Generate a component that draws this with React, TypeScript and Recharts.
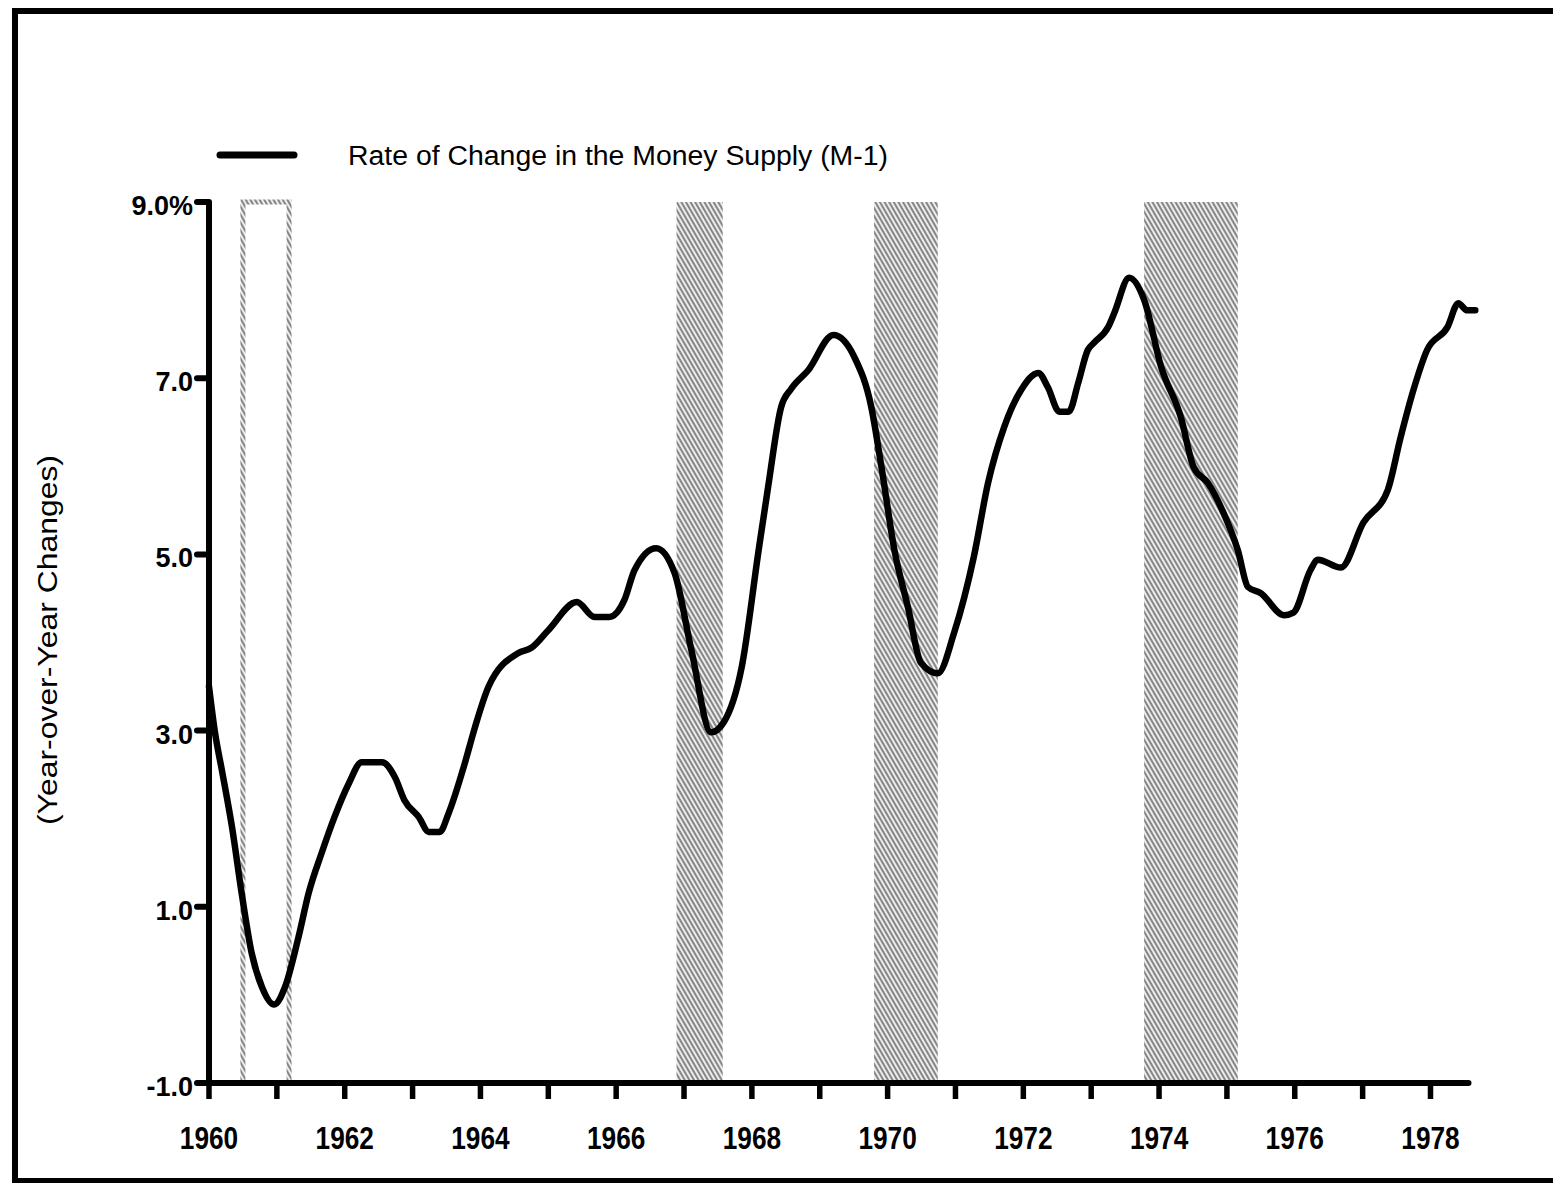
import React from 'react';
import { LineChart, Line, XAxis, YAxis, ReferenceArea, ReferenceLine } from 'recharts';

// M-1 year-over-year growth (decimal years)
const years = [
  1960.0, 1960.09, 1960.19, 1960.34, 1960.49, 1960.63, 1960.78, 1960.96, 1961.12, 1961.32,
  1961.47, 1961.66, 1961.85, 1962.06, 1962.25, 1962.55, 1962.74, 1962.88, 1963.09, 1963.24,
  1963.4, 1963.53, 1963.77, 1963.92, 1964.12, 1964.56, 1964.75, 1965.0, 1965.42, 1965.68,
  1965.9, 1966.12, 1966.27, 1966.59, 1966.86, 1967.11, 1967.4, 1967.59, 1967.85, 1968.1,
  1968.24, 1968.43, 1968.58, 1968.83, 1969.2, 1969.51, 1969.76, 1969.91, 1970.1, 1970.3,
  1970.49, 1970.74, 1970.98, 1971.27, 1971.48, 1971.72, 1971.97, 1972.22, 1972.36, 1972.53,
  1972.67, 1972.81, 1972.95, 1973.04, 1973.25, 1973.34, 1973.56, 1973.78, 1974.03, 1974.32,
  1974.51, 1974.72, 1974.95, 1975.16, 1975.31, 1975.5, 1975.84, 1975.98, 1976.23, 1976.34,
  1976.68, 1977.01, 1977.37, 1977.56, 1977.75, 1977.95, 1978.25, 1978.41, 1978.54, 1978.66,
];
const m1Growth = [
  3.5, 2.97, 2.55, 1.9, 1.11, 0.47, 0.09, -0.11, 0.09, 0.66,
  1.16, 1.61, 2.02, 2.4, 2.64, 2.64, 2.47, 2.21, 2.02, 1.85,
  1.85, 2.06, 2.63, 3.04, 3.5, 3.88, 3.94, 4.14, 4.46, 4.29,
  4.29, 4.48, 4.82, 5.07, 4.79, 3.91, 2.98, 3.1, 3.72, 5.05,
  5.77, 6.67, 6.88, 7.09, 7.49, 7.24, 6.67, 5.99, 5.05, 4.4,
  3.77, 3.65, 4.11, 4.97, 5.81, 6.45, 6.87, 7.06, 6.9, 6.62,
  6.62, 6.95, 7.32, 7.4, 7.58, 7.74, 8.14, 7.89, 7.13, 6.56,
  5.99, 5.81, 5.47, 5.05, 4.63, 4.56, 4.31, 4.34, 4.82, 4.94,
  4.85, 5.36, 5.73, 6.33, 6.87, 7.32, 7.58, 7.85, 7.77, 7.77,
];

// shaded recession periods
const recessionStart = [1960.5, 1966.89, 1969.8, 1973.78];
const recessionEnd = [1961.18, 1967.57, 1970.74, 1975.16];
const recessionOutlineOnly = [true, false, false, false];

const xTicks = [
  1960, 1961, 1962, 1963, 1964, 1965, 1966, 1967, 1968, 1969,
  1970, 1971, 1972, 1973, 1974, 1975, 1976, 1977, 1978,
];
const yTicks = [-1, 1, 3, 5, 7, 9];
const xAxisEnd = 1978.56;

const seriesName = 'Rate of Change in the Money Supply (M-1)';
const axisTitle = '(Year-over-Year Changes)';

const FONT = '"Liberation Sans", Arial, Helvetica, sans-serif';

const chartData = years.map((year, i) => ({ year, value: m1Growth[i] }));

const XTick = ({ x, y, payload }: any) => {
  if (payload.value % 2 !== 0) return null;
  return (
    <text
      transform={`translate(${x},${y + 50}) scale(0.82,1)`}
      textAnchor="middle"
      fontFamily={FONT}
      fontSize={32}
      fontWeight={700}
      fill="#000"
    >
      {payload.value}
    </text>
  );
};

const YTick = ({ x, y, payload }: any) => {
  const v = payload.value;
  const label = v === 9 ? '9.0%' : v.toFixed(1);
  return (
    <text x={x + 2} y={y + 13} textAnchor="end" fontFamily={FONT} fontSize={27} fontWeight={700} fill="#000">
      {label}
    </text>
  );
};

const AxisTitle = () => (
  <text
    x={48}
    y={640}
    transform="rotate(-90 48 640)"
    textAnchor="middle"
    dominantBaseline="central"
    fontFamily={FONT}
    fontSize={27}
    textLength={370}
    lengthAdjust="spacingAndGlyphs"
    fill="#000"
  >
    {axisTitle}
  </text>
);

export default function App() {
  return (
    <div style={{ position: 'absolute', left: 0, top: 0, width: 1553, height: 1183, background: '#fff', overflow: 'hidden' }}>
      {/* hatching used for the recession bands */}
      <svg width={0} height={0} style={{ position: 'absolute' }}>
        <defs>
          <pattern id="recessionHatch" patternUnits="userSpaceOnUse" width={4} height={4} patternTransform="rotate(-30)">
            <rect width={4} height={4} fill="#ececec" />
            <line x1={1} y1={0} x2={1} y2={4} stroke="#333" strokeWidth={1.1} />
          </pattern>
        </defs>
      </svg>

      {/* page frame */}
      <div
        style={{
          position: 'absolute',
          left: 12,
          top: 8,
          width: 1553,
          height: 1164,
          borderTop: '6px solid #000',
          borderLeft: '6px solid #000',
          borderBottom: '5px solid #000',
        }}
      />

      {/* legend */}
      <svg width={1553} height={190} style={{ position: 'absolute', left: 0, top: 0 }}>
        <line x1={220} y1={155} x2={294} y2={155} stroke="#000" strokeWidth={7} strokeLinecap="round" />
        <text x={348} y={165} fontFamily={FONT} fontSize={27} textLength={540} lengthAdjust="spacingAndGlyphs" fill="#000">
          {seriesName}
        </text>
      </svg>

      <div style={{ position: 'absolute', left: 0, top: 0 }}>
        <LineChart width={1553} height={1183} data={chartData} margin={{ top: 202, right: 75, bottom: 0, left: 0 }}>
          <XAxis
            dataKey="year"
            type="number"
            domain={[1960, 1978.7]}
            ticks={xTicks}
            interval={0}
            axisLine={false}
            tickSize={16}
            tickMargin={0}
            tickLine={{ stroke: '#000', strokeWidth: 5.5 }}
            tick={<XTick />}
            height={100}
          />
          <YAxis
            type="number"
            domain={[-1, 9]}
            ticks={yTicks}
            interval={0}
            width={209}
            axisLine={{ stroke: '#000', strokeWidth: 6 }}
            tickSize={12}
            tickMargin={6}
            tickLine={{ stroke: '#000', strokeWidth: 6, strokeLinecap: 'round' }}
            tick={<YTick />}
            label={{ value: axisTitle, content: () => <AxisTitle /> }}
          />
          {recessionStart.map((start, i) => (
            <ReferenceArea
              key={`rec-${i}`}
              x1={start}
              x2={recessionEnd[i]}
              y1={-1}
              y2={9}
              fill={recessionOutlineOnly[i] ? '#fff' : 'url(#recessionHatch)'}
              fillOpacity={1}
              stroke={recessionOutlineOnly[i] ? 'url(#recessionHatch)' : 'none'}
              strokeWidth={recessionOutlineOnly[i] ? 5 : 0}
            />
          ))}
          <ReferenceLine
            segment={[{ x: 1960, y: -1 }, { x: xAxisEnd, y: -1 }]}
            stroke="#000"
            strokeWidth={6}
            strokeLinecap="round"
          />
          <Line
            type="monotone"
            dataKey="value"
            name={seriesName}
            stroke="#000"
            strokeWidth={6.5}
            strokeLinejoin="round"
            strokeLinecap="round"
            dot={false}
            isAnimationActive={false}
          />
        </LineChart>
      </div>
    </div>
  );
}
